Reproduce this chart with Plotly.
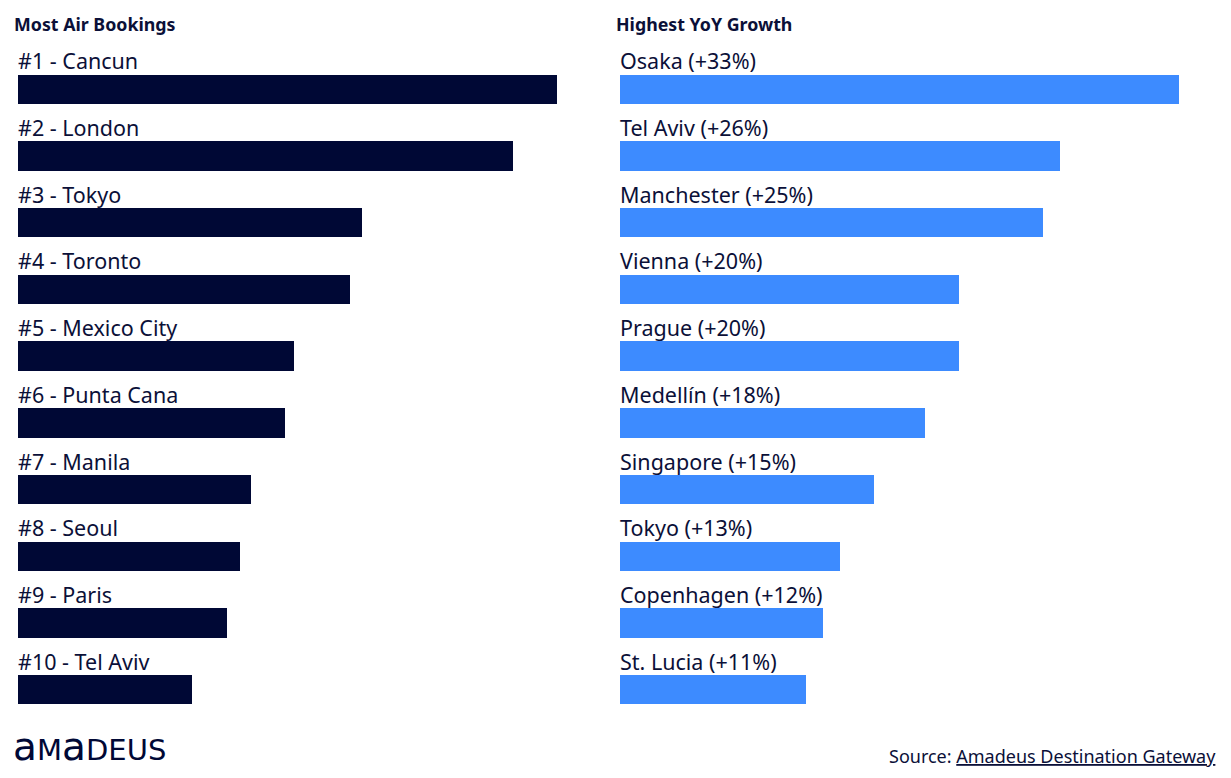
import plotly.graph_objects as go

# Left panel: most air bookings (relative index, Cancun = 100)
left_title = "Most Air Bookings"
left_cities = ["Cancun", "London", "Tokyo", "Toronto", "Mexico City",
               "Punta Cana", "Manila", "Seoul", "Paris", "Tel Aviv"]
left_values = [100, 91.8, 63.8, 61.6, 51.2, 49.5, 43.2, 41.2, 38.8, 32.3]

# Right panel: highest YoY growth (%)
right_title = "Highest YoY Growth"
right_cities = ["Osaka", "Tel Aviv", "Manchester", "Vienna", "Prague",
                "Medellín", "Singapore", "Tokyo", "Copenhagen", "St. Lucia"]
right_values = [33, 26, 25, 20, 20, 18, 15, 13, 12, 11]

# Logo pieces (text, font size)
logo_parts = [("a", 39), ("M", 29), ("a", 39), ("DEUS", 29)]

NAVY = "#000835"
BLUE = "#3D8BFF"
TEXT = "#0B1038"
FONT = "Noto Sans"

OFF = 8  # page body margin
W, H = 1231 - 2 * OFF, 778 - 2 * OFF


def px(x):
    return (x - OFF) / W


def py(y):
    return 1 - (y - OFF) / H


rows = list(range(len(left_cities)))

fig = go.Figure()
fig.add_trace(go.Bar(x=left_values, y=rows, orientation="h", marker=dict(color=NAVY, line=dict(width=0)),
                     width=0.44, xaxis="x", yaxis="y", hoverinfo="skip"))
fig.add_trace(go.Bar(x=right_values, y=rows, orientation="h", marker=dict(color=BLUE, line=dict(width=0)),
                     width=0.44, xaxis="x2", yaxis="y", hoverinfo="skip"))

annotations = []
for i, c in enumerate(left_cities):
    annotations.append(dict(x=0, y=i - 0.43, xref="x", yref="y", text=f"#{i+1} - {c}",
                            showarrow=False, xanchor="left", yanchor="middle", xshift=-2,
                            font=dict(family=FONT, size=21.5, color=TEXT)))
for i, (c, v) in enumerate(zip(right_cities, right_values)):
    annotations.append(dict(x=0, y=i - 0.43, xref="x2", yref="y", text=f"{c} (+{v}%)",
                            showarrow=False, xanchor="left", yanchor="middle", xshift=-2,
                            font=dict(family=FONT, size=21.5, color=TEXT)))

annotations.append(dict(x=px(12), y=py(24), xref="paper", yref="paper", text=f"<b>{left_title}</b>",
                        showarrow=False, xanchor="left", yanchor="middle",
                        font=dict(family=FONT, size=17.8, color=TEXT)))
annotations.append(dict(x=px(614), y=py(24), xref="paper", yref="paper", text=f"<b>{right_title}</b>",
                        showarrow=False, xanchor="left", yanchor="middle",
                        font=dict(family=FONT, size=17.8, color=TEXT)))

# logo: lay the pieces side by side on a common baseline
adv = {"a": 0.613, "M": 0.863, "D": 0.770, "E": 0.632, "U": 0.732, "S": 0.635}
baseline = 760
xcur = 11
for txt, fs in logo_parts:
    annotations.append(dict(x=px(xcur), y=py(baseline - 0.346 * fs), xref="paper", yref="paper",
                            text=txt, showarrow=False, xanchor="left", yanchor="middle",
                            font=dict(family="DejaVu Sans", size=fs, color=NAVY)))
    xcur += sum(adv[ch] for ch in txt) * fs

annotations.append(dict(x=px(1218), y=py(756), xref="paper", yref="paper",
                        text="Source: <span style='text-decoration:underline'>Amadeus Destination Gateway</span>",
                        showarrow=False, xanchor="right", yanchor="middle",
                        font=dict(family=FONT, size=18, color=TEXT)))

pitch = 66.7
top_px = 89.5 - pitch / 2
bot_px = 89.5 + 9 * pitch + pitch / 2

fig.update_layout(
    width=W, height=H, margin=dict(l=0, r=0, t=0, b=0),
    paper_bgcolor="white", plot_bgcolor="white", showlegend=False,
    bargap=0,
    xaxis=dict(domain=[px(18), px(557)], range=[0, 100], visible=False, fixedrange=True),
    xaxis2=dict(domain=[px(620), px(1179)], range=[0, 33], visible=False, fixedrange=True),
    yaxis=dict(domain=[py(bot_px), py(top_px)], range=[9.5, -0.5], visible=False, fixedrange=True),
    annotations=annotations,
)

fig.write_html("out.html")
